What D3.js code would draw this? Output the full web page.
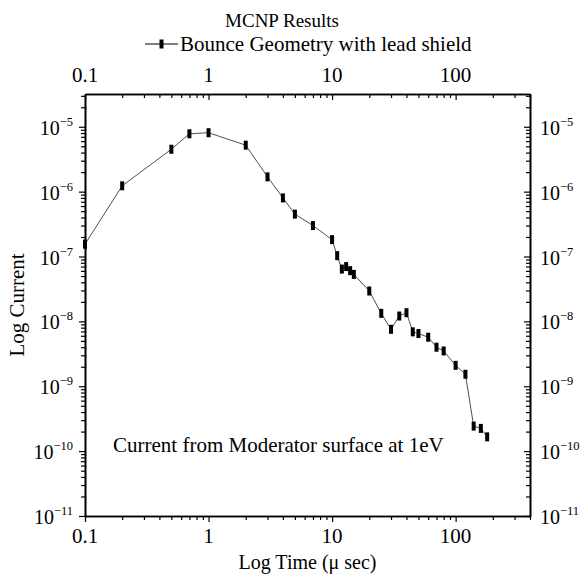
<!DOCTYPE html>
<html>
<head>
<meta charset="utf-8">
<script src="https://cdn.jsdelivr.net/npm/d3@7/dist/d3.min.js"></script>
<style>
  html, body { margin: 0; padding: 0; background: #fff; }
  svg text { font-family: "Liberation Serif", "Times New Roman", serif; fill: #000; }
</style>
</head>
<body>
<svg id="chart" width="582" height="575"></svg>
<script>
// ---- data ----
const timeUs = [0.1, 0.2, 0.5, 0.7, 1, 2, 3, 4, 5, 7, 10, 11, 12, 13, 14, 15, 20, 25, 30, 35, 40, 45, 50, 60, 70, 80, 100, 120, 140, 160, 180];
const current = [1.55e-7, 1.23e-6, 4.5e-6, 7.8e-6, 8.1e-6, 5.2e-6, 1.69e-6, 8.0e-7, 4.5e-7, 3.0e-7, 1.82e-7, 1.03e-7, 6.4e-8, 7.0e-8, 6.05e-8, 5.3e-8, 2.94e-8, 1.33e-8, 7.55e-9, 1.21e-8, 1.36e-8, 6.9e-9, 6.5e-9, 5.7e-9, 4.0e-9, 3.5e-9, 2.1e-9, 1.53e-9, 2.43e-10, 2.24e-10, 1.66e-10];
const xMajorTicks = [0.1, 1, 10, 100];
const xTickLabels = ["0.1", "1", "10", "100"];
const yMajorExponents = [-5, -6, -7, -8, -9, -10, -11];
const chartTitle = "MCNP Results";
const seriesName = "Bounce Geometry with lead shield";
const annotation = "Current from Moderator surface at 1eV";
const xTitle = "Log Time (\u03bc sec)";
const yTitle = "Log Current";

// ---- layout ----
const L = 85, R = 530, T = 94, B = 516;
const FS = 21;
const svg = d3.select("#chart");

const x = d3.scaleLog().domain([0.1, 400]).range([L, R]);
const y = d3.scaleLog().domain([1e-11, 3.2e-5]).range([B, T]);

// minor ticks
const xMinor = [];
for (let e = -1; e <= 2; e++) for (let m = 2; m <= 9; m++) { const v = m * Math.pow(10, e); if (v <= 400) xMinor.push(v); }
const yMinor = [];
for (let e = -11; e <= -5; e++) for (let m = 2; m <= 9; m++) { const v = m * Math.pow(10, e); if (v <= 3.2e-5) yMinor.push(v); }
const yMajor = yMajorExponents.map(e => Math.pow(10, e));

function styleAxis(g) {
  g.select(".domain").attr("stroke", "#000").attr("stroke-width", 1.6);
  g.selectAll(".tick line").attr("stroke", "#000").attr("stroke-width", 1.2);
  g.selectAll(".tick text").remove();
}
// bottom (outward)
svg.append("g").attr("transform", `translate(0,${B})`).call(d3.axisBottom(x).tickValues(xMinor).tickSize(4).tickSizeOuter(0)).call(styleAxis);
svg.append("g").attr("transform", `translate(0,${B})`).call(d3.axisBottom(x).tickValues(xMajorTicks).tickSize(6).tickSizeOuter(0)).call(styleAxis);
// top (inward)
svg.append("g").attr("transform", `translate(0,${T})`).call(d3.axisTop(x).tickValues(xMinor).tickSize(-4).tickSizeOuter(0)).call(styleAxis);
svg.append("g").attr("transform", `translate(0,${T})`).call(d3.axisTop(x).tickValues(xMajorTicks).tickSize(-6).tickSizeOuter(0)).call(styleAxis);
// left (outward)
svg.append("g").attr("transform", `translate(${L},0)`).call(d3.axisLeft(y).tickValues(yMinor).tickSize(4).tickSizeOuter(0)).call(styleAxis);
svg.append("g").attr("transform", `translate(${L},0)`).call(d3.axisLeft(y).tickValues(yMajor).tickSize(6).tickSizeOuter(0)).call(styleAxis);
// right (inward)
svg.append("g").attr("transform", `translate(${R},0)`).call(d3.axisRight(y).tickValues(yMinor).tickSize(-4).tickSizeOuter(0)).call(styleAxis);
svg.append("g").attr("transform", `translate(${R},0)`).call(d3.axisRight(y).tickValues(yMajor).tickSize(-6).tickSizeOuter(0)).call(styleAxis);

// x tick labels (bottom and top)
xMajorTicks.forEach((v, i) => {
  svg.append("text").attr("x", x(v)).attr("y", B + 27).attr("text-anchor", "middle").attr("font-size", FS).text(xTickLabels[i]);
  svg.append("text").attr("x", x(v)).attr("y", T - 12).attr("text-anchor", "middle").attr("font-size", FS).text(xTickLabels[i]);
});
// y tick labels (left and right) with superscripts
function powLabel(xPos, yPos, e, anchor) {
  const t = svg.append("text").attr("x", xPos).attr("y", yPos).attr("text-anchor", anchor).attr("font-size", 20);
  t.append("tspan").text("10");
  t.append("tspan").attr("dy", -9).attr("font-size", 12.5).text("\u2212" + Math.abs(e));
}
yMajorExponents.forEach(e => {
  const v = Math.pow(10, e);
  powLabel(L - 12, y(v) + 8, e, "end");
  powLabel(R + 10, y(v) + 8, e, "start");
});

// series line + markers
const pts = timeUs.map((t, i) => ({ t, c: current[i] }));
svg.append("path").datum(pts)
  .attr("fill", "none").attr("stroke", "#222").attr("stroke-width", 0.8)
  .attr("d", d3.line().x(d => x(d.t)).y(d => y(d.c)));
svg.append("g").selectAll("rect").data(pts).join("rect")
  .attr("x", d => x(d.t) - 2).attr("y", d => y(d.c) - 4.5)
  .attr("width", 4).attr("height", 9).attr("fill", "#000");

// titles
svg.append("text").attr("x", 282).attr("y", 27).attr("text-anchor", "middle").attr("font-size", 19).text(chartTitle);
// legend
const lgY = 44;
svg.append("line").attr("x1", 145).attr("x2", 178).attr("y1", lgY).attr("y2", lgY).attr("stroke", "#000").attr("stroke-width", 1);
svg.append("rect").attr("x", 159.5).attr("y", lgY - 4.5).attr("width", 4).attr("height", 9).attr("fill", "#000");
svg.append("text").attr("x", 180).attr("y", lgY + 7).attr("font-size", FS).text(seriesName);

svg.append("text").attr("x", 113).attr("y", 452).attr("font-size", FS).text(annotation);
svg.append("text").attr("x", (L + R) / 2).attr("y", 569).attr("text-anchor", "middle").attr("font-size", 20).text(xTitle);
svg.append("text").attr("transform", `translate(24,${(T + B) / 2}) rotate(-90)`).attr("text-anchor", "middle").attr("font-size", FS).text(yTitle);
</script>
</body>
</html>
